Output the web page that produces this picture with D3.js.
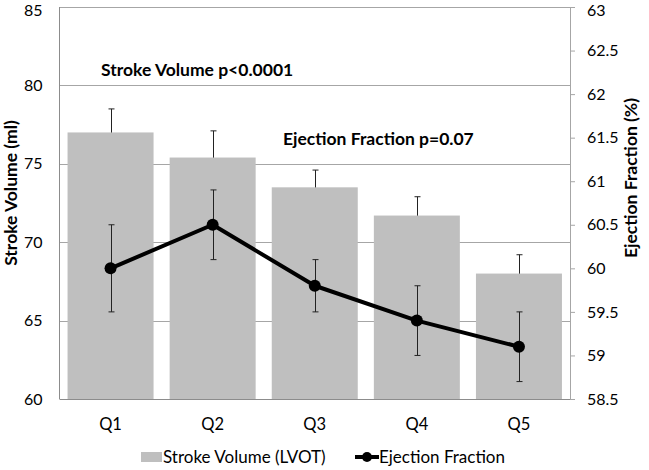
<!DOCTYPE html>
<html><head><meta charset="utf-8">
<script src="https://cdn.jsdelivr.net/npm/d3@7"></script>
<style>body{margin:0;background:#fff}svg{display:block}text{font-family:Lato,"Open Sans",sans-serif}</style>
</head><body>
<svg id="c" width="649" height="470"></svg>
<script>
const categories = ["Q1","Q2","Q3","Q4","Q5"];
const strokeVolume = [77.0, 75.4, 73.5, 71.7, 68.0];
const strokeVolumeErr = [1.5, 1.7, 1.1, 1.2, 1.2];
const ejectionFraction = [60.0, 60.5, 59.8, 59.4, 59.1];
const ejectionFractionErr = [0.5, 0.4, 0.3, 0.4, 0.4];
const leftTicks = [60, 65, 70, 75, 80, 85];
const rightTicks = [58.5, 59, 59.5, 60, 60.5, 61, 61.5, 62, 62.5, 63];
const annotations = [
  {text: "Stroke Volume p<0.0001", axis: "left", value: 80.6, cat: 0},
  {text: "Ejection Fraction p=0.07", axis: "right", value: 61.42, cat: 2}
];

const svg = d3.select("#c");
const L = 59.5, R = 570, T = 7, B = 399;
const xc = d3.scaleBand().domain(categories).range([L, R]);
const yL = d3.scaleLinear().domain([60, 85]).range([B, T]);
const yR = d3.scaleLinear().domain([58.5, 63]).range([B, T]);
const gridColor = "#a6a6a6";
const cx = i => xc(categories[i]) + xc.bandwidth() / 2;

// gridlines
svg.append("g").selectAll("line").data(leftTicks.slice(1)).join("line")
  .attr("x1", L).attr("x2", R).attr("y1", d => Math.round(yL(d)) + 0.5).attr("y2", d => Math.round(yL(d)) + 0.5)
  .attr("stroke", gridColor).attr("stroke-width", 1);

// bar error bars (drawn behind bars)
const eg = svg.append("g").attr("stroke", "#222").attr("stroke-width", 1);
strokeVolume.forEach((v, i) => {
  const X = Math.round(cx(i)) + 0.5;
  const y1 = yL(v + strokeVolumeErr[i]), y2 = yL(v - strokeVolumeErr[i]);
  eg.append("line").attr("x1", X).attr("x2", X).attr("y1", y1).attr("y2", y2);
  eg.append("line").attr("x1", X - 3).attr("x2", X + 3).attr("y1", y1).attr("y2", y1);
  eg.append("line").attr("x1", X - 3).attr("x2", X + 3).attr("y1", y2).attr("y2", y2);
});

// bars
const bw = 86;
svg.append("g").selectAll("rect").data(strokeVolume).join("rect")
  .attr("x", (d, i) => cx(i) - bw / 2)
  .attr("width", bw)
  .attr("y", d => yL(d)).attr("height", d => yL(60) - yL(d))
  .attr("fill", "#bfbfbf");

// axes lines
svg.append("line").attr("x1", L).attr("x2", L).attr("y1", T).attr("y2", B).attr("stroke", "#8c8c8c");
svg.append("line").attr("x1", L).attr("x2", R).attr("y1", B + 0.5).attr("y2", B + 0.5).attr("stroke", "#8c8c8c");
const rAxis = d3.axisRight(yR).tickValues(rightTicks).tickSize(5).tickPadding(12).tickFormat(d => d3.format("")(d));
const rg = svg.append("g").attr("transform", `translate(${R},0)`).call(rAxis);
rg.select(".domain").attr("stroke", "#a6a6a6");
rg.selectAll(".tick line").attr("stroke", "#a6a6a6");
rg.selectAll("text").attr("font-size", 16).attr("fill", "#000").attr("font-family", "Lato")
  .attr("dy", d => d === 63 ? "0.32em" : "0.32em").attr("y", d => d === 63 ? 3 : 0);

const lAxis = d3.axisLeft(yL).tickValues(leftTicks).tickSize(0).tickPadding(17);
const lg = svg.append("g").attr("transform", `translate(${L},0)`).call(lAxis);
lg.select(".domain").remove();
lg.selectAll("text").attr("font-size", 16).attr("fill", "#000").attr("font-family", "Lato")
  .attr("y", d => d === 85 ? 3 : 0);

// x labels
svg.append("g").selectAll("text").data(categories).join("text")
  .attr("x", (d, i) => cx(i)).attr("y", 430).attr("text-anchor", "middle")
  .attr("font-size", 16.5).text(d => d);

// EF error bars
const eg2 = svg.append("g").attr("stroke", "#222").attr("stroke-width", 1);
ejectionFraction.forEach((v, i) => {
  const X = Math.round(cx(i)) + 0.5;
  const y1 = yR(v + ejectionFractionErr[i]), y2 = yR(v - ejectionFractionErr[i]);
  eg2.append("line").attr("x1", X).attr("x2", X).attr("y1", y1).attr("y2", y2);
  eg2.append("line").attr("x1", X - 3).attr("x2", X + 3).attr("y1", y1).attr("y2", y1);
  eg2.append("line").attr("x1", X - 3).attr("x2", X + 3).attr("y1", y2).attr("y2", y2);
});

// EF line
svg.append("path").datum(ejectionFraction)
  .attr("d", d3.line().x((d, i) => cx(i)).y(d => yR(d)))
  .attr("fill", "none").attr("stroke", "#000").attr("stroke-width", 4).attr("stroke-linejoin", "round");
svg.append("g").selectAll("circle").data(ejectionFraction).join("circle")
  .attr("cx", (d, i) => cx(i)).attr("cy", d => yR(d)).attr("r", 6).attr("fill", "#000");

// annotations
annotations.forEach(a => {
  const y = a.axis === "left" ? yL(a.value) : yR(a.value);
  svg.append("text").attr("x", a.cat === 0 ? 101 : 283).attr("y", y)
    .attr("font-size", 17.5).attr("font-weight", "bold").text(a.text);
});

// axis titles
svg.append("text").attr("transform", `translate(17,193) rotate(-90)`).attr("text-anchor", "middle")
  .attr("font-size", 17.5).attr("font-weight", "bold").text("Stroke Volume (ml)");
svg.append("text").attr("transform", `translate(637,178) rotate(-90)`).attr("text-anchor", "middle")
  .attr("font-size", 17.5).attr("font-weight", "bold").text("Ejection Fraction (%)");

// legend
const lgd = svg.append("g");
lgd.append("rect").attr("x", 141).attr("y", 452).attr("width", 21).attr("height", 10).attr("fill", "#bfbfbf");
lgd.append("text").attr("x", 163).attr("y", 463).attr("font-size", 17).text("Stroke Volume (LVOT)");
lgd.append("line").attr("x1", 355).attr("x2", 379).attr("y1", 457).attr("y2", 457).attr("stroke", "#000").attr("stroke-width", 4);
lgd.append("circle").attr("cx", 367).attr("cy", 457).attr("r", 5).attr("fill", "#000");
lgd.append("text").attr("x", 379).attr("y", 463).attr("font-size", 17).text("Ejection Fraction");
</script>
</body></html>
